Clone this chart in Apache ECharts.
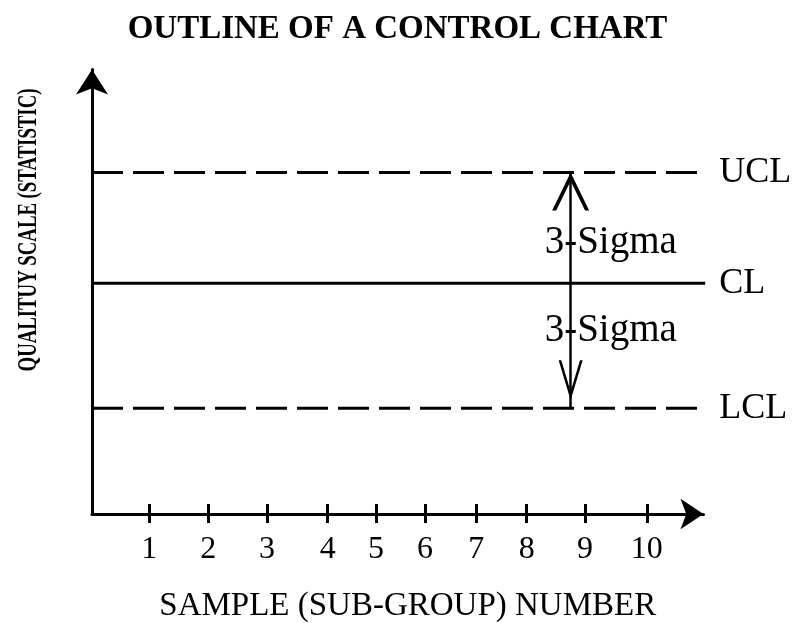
<!DOCTYPE html>
<html>
<head>
<meta charset="utf-8">
<script src="https://cdn.jsdelivr.net/npm/echarts@6/dist/echarts.min.js"></script>
<style>
  html, body { margin: 0; padding: 0; background: #fff; }
  #chart { width: 795px; height: 623px; }
</style>
</head>
<body>
<div id="chart"></div>
<script>
// sample numbers on the x axis and where their ticks sit (uneven, as drawn)
const sampleNo = ['1', '2', '3', '4', '5', '6', '7', '8', '9', '10'];
const tickPos = [1.03, 2.09, 3.15, 4.24, 5.11, 5.99, 6.91, 7.82, 8.87, 9.98];

// control limits
const limitNames = ['UCL', 'CL', 'LCL'];
const limitValues = [7.68, 5.19, 2.38];
const limitDashed = [true, false, true];
const lineStart = 0;
const lineEnd = 11.03;

// 3-sigma annotation
const sigmaX = 8.61;
const sigmaText = ['3-Sigma', '3-Sigma'];
const sigmaY = [6.1, 4.13];

const ink = '#000';
const serif = '"Liberation Serif", "DejaVu Serif", serif';
// open arrow head (tip at top)
const chevron = 'path://M50 0 L100 100 L89 100 L50 22 L11 100 L0 100 Z';

const chart = echarts.init(document.getElementById('chart'));

const limitSeries = limitNames.map((name, i) => ({
  name: name,
  type: 'line',
  xAxisIndex: 0,
  data: [[lineStart, limitValues[i]], [lineEnd, limitValues[i]]],
  symbol: 'none',
  clip: false,
  silent: true,
  lineStyle: {
    color: ink,
    width: 3,
    type: limitDashed[i] ? [31, 10] : 'solid'
  },
  endLabel: {
    show: true,
    formatter: name,
    color: ink,
    fontFamily: serif,
    fontSize: 36,
    distance: 14
  }
}));

const option = {
  backgroundColor: '#fff',
  animation: false,
  title: {
    text: 'OUTLINE OF A CONTROL CHART',
    left: 'center',
    top: 8,
    textStyle: {
      fontFamily: serif,
      fontWeight: 'bold',
      fontSize: 33,
      color: ink
    }
  },
  grid: {
    left: 92,
    right: 91.5,
    top: 69.5,
    bottom: 109,
    containLabel: false,
    outerBoundsMode: 'none'
  },
  xAxis: [
    {
      type: 'value',
      min: 0,
      max: 11,
      position: 'bottom',
      name: 'SAMPLE (SUB-GROUP) NUMBER',
      nameLocation: 'middle',
      nameGap: 76,
      nameTextStyle: {
        fontFamily: serif,
        fontSize: 33,
        color: ink,
        padding: [0, 0, 0, 20]
      },
      splitLine: { show: false },
      axisLine: {
        show: true,
        symbol: ['none', 'arrow'],
        symbolSize: [23, 23],
        lineStyle: { color: ink, width: 3 }
      },
      axisTick: {
        show: true,
        customValues: tickPos,
        length: 9,
        lineStyle: { color: ink, width: 3 }
      },
      axisLabel: {
        customValues: tickPos,
        formatter: v => sampleNo[tickPos.indexOf(v)],
        margin: 20,
        fontFamily: serif,
        fontSize: 32,
        color: ink
      }
    },
    {
      // second axis only for the upper half of the crossing ticks
      type: 'value',
      min: 0,
      max: 11,
      position: 'top',
      offset: -444.5,
      splitLine: { show: false },
      axisLine: { show: false, onZero: false },
      axisTick: {
        show: true,
        customValues: tickPos,
        length: 10,
        lineStyle: { color: ink, width: 3 }
      },
      axisLabel: { show: false }
    }
  ],
  yAxis: {
    type: 'value',
    min: 0,
    max: 10,
    splitLine: { show: false },
    axisTick: { show: false },
    axisLabel: { show: false },
    axisLine: {
      show: true,
      symbol: ['none', 'arrow'],
      symbolSize: [24, 25],
      lineStyle: { color: ink, width: 3 }
    }
  },
  graphic: [
    {
      type: 'text',
      x: 29,
      y: 230,
      rotation: Math.PI / 2,
      scaleX: 0.67,
      silent: true,
      style: {
        text: 'QUALITUY SCALE (STATISTIC)',
        font: 'bold 28px "Liberation Serif"',
        fill: ink,
        align: 'center',
        verticalAlign: 'middle'
      }
    }
  ],
  series: limitSeries.concat([
    {
      name: 'sigma',
      type: 'scatter',
      xAxisIndex: 0,
      data: sigmaY.map((y, i) => ({ value: [sigmaX, y], name: sigmaText[i] })),
      symbolSize: 0,
      silent: true,
      itemStyle: { color: ink, opacity: 1 },
      label: {
        show: true,
        position: 'inside',
        align: 'left',
        offset: [-26, 0],
        formatter: p => p.name,
        fontFamily: serif,
        fontSize: 39,
        color: ink,
        opacity: 1
      },
      markLine: {
        silent: true,
        label: { show: false },
        lineStyle: { color: ink, width: 2.5, type: 'solid', opacity: 1 },
        data: [
          [
            { coord: [sigmaX, limitValues[0]], symbol: chevron, symbolSize: [37, 38], symbolOffset: [0, 19] },
            { coord: [sigmaX, limitValues[2]], symbol: chevron, symbolSize: [24, 40], symbolOffset: [0, 28] }
          ]
        ]
      }
    }
  ])
};

chart.setOption(option);
</script>
</body>
</html>
